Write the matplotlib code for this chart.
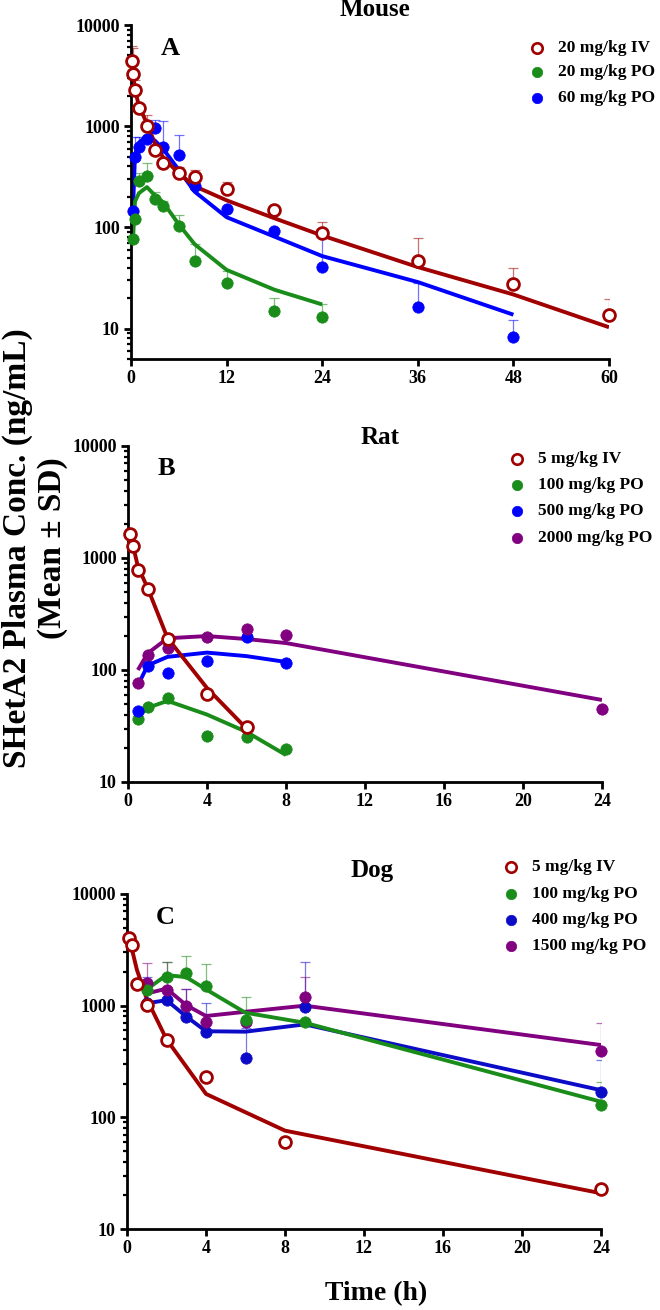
import matplotlib
matplotlib.use("Agg")
import matplotlib.pyplot as plt
from matplotlib.ticker import LogLocator, FixedLocator, FuncFormatter, NullFormatter
from matplotlib.lines import Line2D

plt.rcParams['font.family'] = ['Liberation Serif', 'DejaVu Serif']
plt.rcParams['font.weight'] = 'bold'

# ---------------- Mouse ----------------
mouse_iv_t = [0.083, 0.25, 0.5, 1, 2, 3, 4, 6, 8, 12, 18, 24, 36, 48, 60]
mouse_iv_c = [4400, 3270, 2270, 1500, 1000, 578, 433, 345, 315, 238, 150, 87, 46, 27.5, 13.7]
mouse_iv_sd = [1800, 2600, 580, 0, 285, 0, 0, 50, 51, 43, 0, 25, 32, 12.5, 5.7]
mouse_iv_model = [4300, 3200, 2300, 1580, 1065, 675, 497, 340, 255, 185, 123, 83, 40.5, 21.7, 10.3]

mouse_po20_t = [0.25, 0.5, 1, 2, 3, 4, 6, 8, 12, 18, 24]
mouse_po20_c = [77, 122, 285, 322, 189, 162, 102, 47, 28, 15, 13]
mouse_po20_sd = [0, 0, 60, 112, 35, 20, 29, 22, 9, 5, 4.3]
mouse_po20_model = [75, 180, 218, 250, 207, 178, 107, 68, 38, 24.2, 17.3]

mouse_po60_t = [0.25, 0.5, 1, 2, 3, 4, 6, 8, 12, 18, 24, 36, 48]
mouse_po60_c = [144, 497, 623, 755, 962, 623, 516, 256, 153, 93, 40.4, 16.3, 8.2]
mouse_po60_sd = [0, 286, 150, 345, 180, 490, 304, 0, 0, 0, 47, 12, 4]
mouse_po60_model = [150, 520, 690, 800, 720, 600, 370, 225, 126, 81, 52, 28.8, 13.7]

# ---------------- Rat ----------------
rat_iv_t = [0.083, 0.25, 0.5, 1, 2, 4, 6]
rat_iv_c = [1637, 1280, 781, 528, 188, 61, 30.8]
rat_iv_model = [1650, 1300, 840, 537, 193, 69, 30]

rat_po_t = [0.5, 1, 2, 4, 6, 8]
rat_po100_c = [36.5, 46.4, 55.9, 25.7, 25.4, 19.6]
rat_po100_model = [38, 46, 53, 40, 28, 17.4]
rat_po500_c = [43.4, 109, 93.3, 121, 198, 115]
rat_po500_model = [73, 110, 131, 143, 133, 118]

rat_po2000_t = [0.5, 1, 2, 4, 6, 8, 24]
rat_po2000_c = [77, 136, 156, 196, 232, 205, 44.9]
rat_po2000_model = [100, 141, 192, 201, 189, 174, 54]

# ---------------- Dog ----------------
dog_iv_t = [0.083, 0.25, 0.5, 1, 2, 4, 8, 24]
dog_iv_c = [4000, 3480, 1560, 1010, 492, 228, 60.5, 22.8]
dog_iv_model = [3900, 3200, 2100, 1150, 500, 162, 76, 20.9]

dog_po_t = [1, 2, 3, 4, 6, 9, 24]
dog_po100_c = [1380, 1790, 1972, 1497, 743, 708, 129]
dog_po100_sd = [0, 680, 808, 858, 457, 0, 79]
dog_po100_model = [1400, 1880, 1800, 1400, 864, 703, 138]
dog_po400_c = [1050, 1120, 795, 584, 337, 978, 169]
dog_po400_sd = [760, 0, 605, 466, 293, 1462, 157]
dog_po400_model = [1050, 1120, 800, 590, 585, 680, 175]
dog_po1500_c = [1586, 1380, 1000, 718, 710, 1200, 394]
dog_po1500_sd = [814, 1090, 400, 0, 0, 610, 309]
dog_po1500_model = [1285, 1420, 1010, 808, 882, 1000, 444]

RED = '#a00000'
GREEN = '#1a8c1a'
BLUE = '#0000ff'
NAVY = '#0c0cc8'
PURPLE = '#800080'

W, H = 660, 1310
fig = plt.figure(figsize=(6.6, 13.1), dpi=100)


def axpos(l, r, t, b):
    return [l / W, 1 - b / H, (r - l) / W, (b - t) / H]


def style(ax, xlim, xticks, ylim):
    ax.set_yscale('log')
    ax.set_xlim(*xlim)
    ax.set_ylim(*ylim)
    for s in ['top', 'right']:
        ax.spines[s].set_visible(False)
    for s in ['left', 'bottom']:
        ax.spines[s].set_linewidth(2.0)
    ax.xaxis.set_major_locator(FixedLocator(xticks))
    ax.yaxis.set_major_locator(FixedLocator([10, 100, 1000, 10000]))
    ax.yaxis.set_minor_locator(LogLocator(base=10, subs=range(2, 10), numticks=20))
    ax.yaxis.set_major_formatter(FuncFormatter(lambda v, p: '%d' % v))
    ax.yaxis.set_minor_formatter(NullFormatter())
    ax.tick_params(axis='both', which='major', direction='out', length=5, width=2.0,
                   labelsize=13, pad=3)
    ax.tick_params(axis='y', which='minor', direction='out', length=3, width=1.6)
    for lab in ax.get_xticklabels() + ax.get_yticklabels():
        lab.set_fontweight('bold')


def series(ax, t, c, model, color, open_marker=False, sd=None):
    ax.plot(t if len(model) == len(t) else t, model, '-', color=color, lw=2.8, zorder=2,
            solid_capstyle='butt')
    if sd is not None:
        low = [0] * len(sd)
        ax.errorbar(t, c, yerr=[low, sd], fmt='none', ecolor=color, alpha=0.55,
                    elinewidth=0.9, capsize=3.5, capthick=0.9, zorder=1)
    if open_marker:
        ax.plot(t, c, 'o', ms=8.5, mfc='white', mec=color, mew=2.0, zorder=4, clip_on=False)
    else:
        ax.plot(t, c, 'o', ms=8.2, mfc=color, mec=color, mew=0.5, zorder=3, clip_on=False)


def legend(entries, mx, tx, rows):
    for (label, color, open_m), y in zip(entries, rows):
        fig.add_artist(Line2D([mx / W], [1 - y / H], marker='o', ms=7.5,
                              mfc='white' if open_m else color, mec=color,
                              mew=1.9 if open_m else 0.5, transform=fig.transFigure))
        fig.text(tx / W, 1 - y / H, label, ha='left', va='center', fontsize=12.5,
                 fontweight='bold')


# Panel A
axA = fig.add_axes(axpos(131, 609, 25, 359))
series(axA, mouse_po60_t, mouse_po60_c, mouse_po60_model, BLUE, sd=mouse_po60_sd)
series(axA, mouse_po20_t, mouse_po20_c, mouse_po20_model, GREEN, sd=mouse_po20_sd)
series(axA, mouse_iv_t, mouse_iv_c, mouse_iv_model, RED, open_marker=True, sd=mouse_iv_sd)
style(axA, (0, 60), [0, 12, 24, 36, 48, 60], (5, 10000))
axA.text(0.082, 0.931, 'A', transform=axA.transAxes, fontsize=19, fontweight='bold',
         ha='center', va='center')
fig.text(375 / W, 1 - 10 / H, 'Mouse', ha='center', va='center', fontsize=18, fontweight='bold')
legend([('20 mg/kg IV', RED, True), ('20 mg/kg PO', GREEN, False), ('60 mg/kg PO', BLUE, False)],
       537, 558, [48, 72, 98])

# Panel B
axB = fig.add_axes(axpos(128, 602, 446, 782))
series(axB, rat_po_t, rat_po100_c, rat_po100_model, GREEN)
series(axB, rat_po_t, rat_po500_c, rat_po500_model, BLUE)
series(axB, rat_po2000_t, rat_po2000_c, rat_po2000_model, PURPLE)
series(axB, rat_iv_t, rat_iv_c, rat_iv_model, RED, open_marker=True)
style(axB, (0, 24), [0, 4, 8, 12, 16, 20, 24], (10, 10000))
axB.text(0.082, 0.934, 'B', transform=axB.transAxes, fontsize=19, fontweight='bold',
         ha='center', va='center')
fig.text(380 / W, 1 - 437 / H, 'Rat', ha='center', va='center', fontsize=18, fontweight='bold')
legend([('5 mg/kg IV', RED, True), ('100 mg/kg PO', GREEN, False),
        ('500 mg/kg PO', BLUE, False), ('2000 mg/kg PO', PURPLE, False)],
       517, 538, [459, 485, 511, 538])

# Panel C
axC = fig.add_axes(axpos(127, 601, 894, 1229))
series(axC, dog_po_t, dog_po400_c, dog_po400_model, NAVY, sd=dog_po400_sd)
series(axC, dog_po_t, dog_po1500_c, dog_po1500_model, PURPLE, sd=dog_po1500_sd)
series(axC, dog_po_t, dog_po100_c, dog_po100_model, GREEN, sd=dog_po100_sd)
series(axC, dog_iv_t, dog_iv_c, dog_iv_model, RED, open_marker=True)
style(axC, (0, 24), [0, 4, 8, 12, 16, 20, 24], (10, 10000))
axC.text(0.080, 0.931, 'C', transform=axC.transAxes, fontsize=19, fontweight='bold',
         ha='center', va='center')
fig.text(372 / W, 1 - 871 / H, 'Dog', ha='center', va='center', fontsize=18, fontweight='bold')
legend([('5 mg/kg IV', RED, True), ('100 mg/kg PO', GREEN, False),
        ('400 mg/kg PO', NAVY, False), ('1500 mg/kg PO', PURPLE, False)],
       511, 532, [867, 894, 920, 946])

# Axis labels
fig.text(17 / W, 1 - 548 / H, 'SHetA2 Plasma Conc. (ng/mL)', rotation=90, ha='center',
         va='center', fontsize=24, fontweight='bold')
fig.text(53 / W, 1 - 548 / H, '(Mean \u00b1 SD)', rotation=90, ha='center',
         va='center', fontsize=24, fontweight='bold')
fig.text(376 / W, 1 - 1294 / H, 'Time (h)', ha='center', va='center', fontsize=20,
         fontweight='bold')

fig.savefig('out.png', dpi=100)
